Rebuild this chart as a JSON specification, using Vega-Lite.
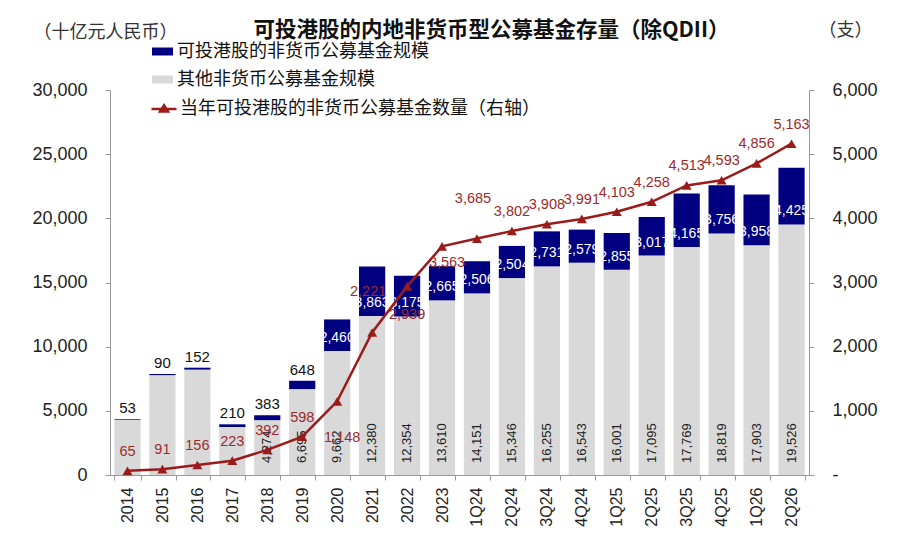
{
  "$schema": "https://vega.github.io/schema/vega-lite/v6.json",
  "width": 699,
  "height": 385,
  "autosize": "none",
  "padding": {"left": 110, "top": 90, "right": 91, "bottom": 63},
  "background": "white",
  "config": {"view": {"stroke": null}, "font": "Liberation Sans"},
  "title": {
    "text": "可投港股的内地非货币型公募基金存量（除QDII）",
    "font": "Noto Sans CJK SC",
    "fontSize": 21.5,
    "fontWeight": "bold",
    "color": "#111111",
    "anchor": "middle",
    "dx": 32,
    "offset": -20
  },
  "datasets": {
    "bars": [
      {"period": "2014", "series": "其他非货币公募基金规模", "value": 4290},
      {"period": "2014", "series": "可投港股的非货币公募基金规模", "value": 53},
      {"period": "2015", "series": "其他非货币公募基金规模", "value": 7780},
      {"period": "2015", "series": "可投港股的非货币公募基金规模", "value": 90},
      {"period": "2016", "series": "其他非货币公募基金规模", "value": 8210},
      {"period": "2016", "series": "可投港股的非货币公募基金规模", "value": 152},
      {"period": "2017", "series": "其他非货币公募基金规模", "value": 3740},
      {"period": "2017", "series": "可投港股的非货币公募基金规模", "value": 210},
      {"period": "2018", "series": "其他非货币公募基金规模", "value": 4274},
      {"period": "2018", "series": "可投港股的非货币公募基金规模", "value": 383},
      {"period": "2019", "series": "其他非货币公募基金规模", "value": 6695},
      {"period": "2019", "series": "可投港股的非货币公募基金规模", "value": 648},
      {"period": "2020", "series": "其他非货币公募基金规模", "value": 9662},
      {"period": "2020", "series": "可投港股的非货币公募基金规模", "value": 2460},
      {"period": "2021", "series": "其他非货币公募基金规模", "value": 12380},
      {"period": "2021", "series": "可投港股的非货币公募基金规模", "value": 3863},
      {"period": "2022", "series": "其他非货币公募基金规模", "value": 12354},
      {"period": "2022", "series": "可投港股的非货币公募基金规模", "value": 3175},
      {"period": "2023", "series": "其他非货币公募基金规模", "value": 13610},
      {"period": "2023", "series": "可投港股的非货币公募基金规模", "value": 2665},
      {"period": "1Q24", "series": "其他非货币公募基金规模", "value": 14151},
      {"period": "1Q24", "series": "可投港股的非货币公募基金规模", "value": 2506},
      {"period": "2Q24", "series": "其他非货币公募基金规模", "value": 15346},
      {"period": "2Q24", "series": "可投港股的非货币公募基金规模", "value": 2504},
      {"period": "3Q24", "series": "其他非货币公募基金规模", "value": 16255},
      {"period": "3Q24", "series": "可投港股的非货币公募基金规模", "value": 2731},
      {"period": "4Q24", "series": "其他非货币公募基金规模", "value": 16543},
      {"period": "4Q24", "series": "可投港股的非货币公募基金规模", "value": 2579},
      {"period": "1Q25", "series": "其他非货币公募基金规模", "value": 16001},
      {"period": "1Q25", "series": "可投港股的非货币公募基金规模", "value": 2855},
      {"period": "2Q25", "series": "其他非货币公募基金规模", "value": 17095},
      {"period": "2Q25", "series": "可投港股的非货币公募基金规模", "value": 3017},
      {"period": "3Q25", "series": "其他非货币公募基金规模", "value": 17769},
      {"period": "3Q25", "series": "可投港股的非货币公募基金规模", "value": 4165},
      {"period": "4Q25", "series": "其他非货币公募基金规模", "value": 18819},
      {"period": "4Q25", "series": "可投港股的非货币公募基金规模", "value": 3756},
      {"period": "1Q26", "series": "其他非货币公募基金规模", "value": 17903},
      {"period": "1Q26", "series": "可投港股的非货币公募基金规模", "value": 3958},
      {"period": "2Q26", "series": "其他非货币公募基金规模", "value": 19526},
      {"period": "2Q26", "series": "可投港股的非货币公募基金规模", "value": 4425}
    ],
    "counts": [
      {"period": "2014", "count": 65},
      {"period": "2015", "count": 91},
      {"period": "2016", "count": 156},
      {"period": "2017", "count": 223},
      {"period": "2018", "count": 392},
      {"period": "2019", "count": 598},
      {"period": "2020", "count": 1148},
      {"period": "2021", "count": 2221},
      {"period": "2022", "count": 2939},
      {"period": "2023", "count": 3563},
      {"period": "1Q24", "count": 3685},
      {"period": "2Q24", "count": 3802},
      {"period": "3Q24", "count": 3908},
      {"period": "4Q24", "count": 3991},
      {"period": "1Q25", "count": 4103},
      {"period": "2Q25", "count": 4258},
      {"period": "3Q25", "count": 4513},
      {"period": "4Q25", "count": 4593},
      {"period": "1Q26", "count": 4856},
      {"period": "2Q26", "count": 5163}
    ]
  },
  "encoding": {
    "x": {
      "field": "period",
      "type": "nominal",
      "scale": {
        "domain": ["2014", "2015", "2016", "2017", "2018", "2019", "2020", "2021", "2022", "2023", "1Q24", "2Q24", "3Q24", "4Q24", "1Q25", "2Q25", "3Q25", "4Q25", "1Q26", "2Q26"],
        "paddingInner": 0.25,
        "paddingOuter": 0.125
      },
      "axis": {
        "title": null,
        "labelAngle": -90,
        "labelFontSize": 16,
        "labelColor": "#222222",
        "labelPadding": 7,
        "tickBand": "extent",
        "tickSize": 5,
        "tickColor": "#999999",
        "domainColor": "#999999"
      }
    }
  },
  "layer": [
    {
      "data": {"name": "bars"},
      "transform": [
        {"stack": "value", "groupby": ["period"], "sort": [{"field": "series", "order": "ascending"}], "as": ["v0", "v1"]}
      ],
      "encoding": {
        "y": {
          "field": "v0",
          "type": "quantitative",
          "scale": {"domain": [0, 30000]},
          "axis": {
            "values": [0, 5000, 10000, 15000, 20000, 25000, 30000],
            "format": ",.0f",
            "grid": false,
            "labelFontSize": 18,
            "labelColor": "#222222",
            "labelPadding": 18,
            "tickSize": 5,
            "tickColor": "#999999",
            "domainColor": "#999999",
            "title": "（十亿元人民币）",
            "titleFont": "Noto Sans CJK SC",
            "titleFontSize": 18,
            "titleFontWeight": "normal",
            "titleColor": "#333333",
            "titleAngle": 0,
            "titleAlign": "left",
            "titleBaseline": "middle",
            "titleX": -77,
            "titleY": -58
          }
        }
      },
      "layer": [
        {
          "mark": {"type": "bar"},
          "encoding": {
            "y2": {"field": "v1"},
            "color": {
              "field": "series",
              "type": "nominal",
              "scale": {
                "domain": ["可投港股的非货币公募基金规模", "其他非货币公募基金规模"],
                "range": ["#000080", "#d9d9d9"]
              },
              "legend": {
                "title": null,
                "orient": "none",
                "direction": "vertical",
                "legendX": 42,
                "legendY": -49,
                "symbolType": "M-1,-0.38H1V0.38H-1Z",
                "symbolSize": 441,
                "symbolStrokeWidth": 0,
                "rowPadding": 8,
                "labelOffset": 4,
                "labelFont": "Noto Sans CJK SC",
                "labelFontSize": 18,
                "labelColor": "#111111",
                "labelLimit": 600
              }
            }
          }
        },
        {
          "transform": [
            {"filter": {"field": "series", "equal": "其他非货币公募基金规模"}},
            {"filter": {"not": {"field": "period", "oneOf": ["2014", "2015", "2016", "2017"]}}}
          ],
          "mark": {"type": "text", "angle": 270, "align": "left", "baseline": "middle", "dx": 12, "fontSize": 13, "color": "#222222"},
          "encoding": {
            "text": {"field": "value", "type": "quantitative", "format": ","}
          }
        },
        {
          "transform": [
            {"filter": {"field": "series", "equal": "可投港股的非货币公募基金规模"}},
            {"filter": {"field": "period", "oneOf": ["2014", "2015", "2016", "2017", "2018", "2019"]}}
          ],
          "mark": {"type": "text", "baseline": "alphabetic", "dy": -6, "fontSize": 15, "color": "#111111"},
          "encoding": {
            "y": {"field": "v1", "type": "quantitative"},
            "text": {"field": "value", "type": "quantitative", "format": ","}
          }
        },
        {
          "transform": [
            {"filter": {"field": "series", "equal": "可投港股的非货币公募基金规模"}},
            {"filter": {"not": {"field": "period", "oneOf": ["2014", "2015", "2016", "2017", "2018", "2019"]}}}
          ],
          "mark": {"type": "text", "baseline": "middle", "dy": -13, "fontSize": 14, "color": "white"},
          "encoding": {
            "text": {"field": "value", "type": "quantitative", "format": ","}
          }
        }
      ]
    },
    {
      "data": {"name": "counts"},
      "encoding": {
        "y": {
          "field": "count",
          "type": "quantitative",
          "scale": {"domain": [0, 6000]},
          "axis": {
            "orient": "right",
            "values": [0, 1000, 2000, 3000, 4000, 5000, 6000],
            "labelExpr": "datum.value === 0 ? '-' : format(datum.value, ',')",
            "grid": false,
            "labelFontSize": 18,
            "labelColor": "#222222",
            "labelPadding": 18,
            "tickSize": 5,
            "tickColor": "#999999",
            "domainColor": "#999999",
            "title": "（支）",
            "titleFont": "Noto Sans CJK SC",
            "titleFontSize": 18,
            "titleFontWeight": "normal",
            "titleColor": "#333333",
            "titleAngle": 0,
            "titleAlign": "left",
            "titleBaseline": "middle",
            "titleX": 9,
            "titleY": -60
          }
        }
      },
      "layer": [
        {
          "mark": {"type": "line", "strokeWidth": 2.5},
          "encoding": {
            "stroke": {
              "datum": "当年可投港股的非货币公募基金数量（右轴）",
              "type": "nominal",
              "scale": {"range": ["#9b1b1b"]},
              "legend": {
                "title": null,
                "orient": "none",
                "direction": "vertical",
                "legendX": 40,
                "legendY": 5,
                "symbolType": "M-1,0H1M0,-0.3L0.32,0.2H-0.32Z",
                "symbolSize": 625,
                "symbolStrokeWidth": 2.5,
                "symbolFillColor": "#9b1b1b",
                "labelOffset": 2,
                "labelFont": "Noto Sans CJK SC",
                "labelFontSize": 18,
                "labelColor": "#111111",
                "labelLimit": 600
              }
            }
          }
        },
        {
          "mark": {"type": "point", "shape": "triangle-up", "filled": true, "size": 100, "color": "#9b1b1b", "opacity": 1}
        },
        {
          "transform": [
            {"filter": {"not": {"field": "period", "oneOf": ["2020", "2021", "2022", "2023", "1Q24"]}}}
          ],
          "mark": {"type": "text", "baseline": "middle", "dy": -19, "fontSize": 14.5, "color": "#9e2a2b"},
          "encoding": {"text": {"field": "count", "type": "quantitative", "format": ","}}
        },
        {
          "transform": [{"filter": {"field": "period", "oneOf": ["2021", "1Q24"]}}],
          "mark": {"type": "text", "baseline": "middle", "dy": -40, "dx": -4, "fontSize": 14.5, "color": "#9e2a2b"},
          "encoding": {"text": {"field": "count", "type": "quantitative", "format": ","}}
        },
        {
          "transform": [{"filter": {"field": "period", "equal": "2020"}}],
          "mark": {"type": "text", "baseline": "middle", "dy": 37, "dx": 5, "fontSize": 14.5, "color": "#9e2a2b"},
          "encoding": {"text": {"field": "count", "type": "quantitative", "format": ","}}
        },
        {
          "transform": [{"filter": {"field": "period", "equal": "2022"}}],
          "mark": {"type": "text", "baseline": "middle", "dy": 29, "fontSize": 14.5, "color": "#9e2a2b"},
          "encoding": {"text": {"field": "count", "type": "quantitative", "format": ","}}
        },
        {
          "transform": [{"filter": {"field": "period", "equal": "2023"}}],
          "mark": {"type": "text", "baseline": "middle", "dy": 17, "dx": 5, "fontSize": 14.5, "color": "#9e2a2b"},
          "encoding": {"text": {"field": "count", "type": "quantitative", "format": ","}}
        }
      ]
    }
  ],
  "resolve": {"scale": {"y": "independent", "color": "independent", "stroke": "independent"}}
}
